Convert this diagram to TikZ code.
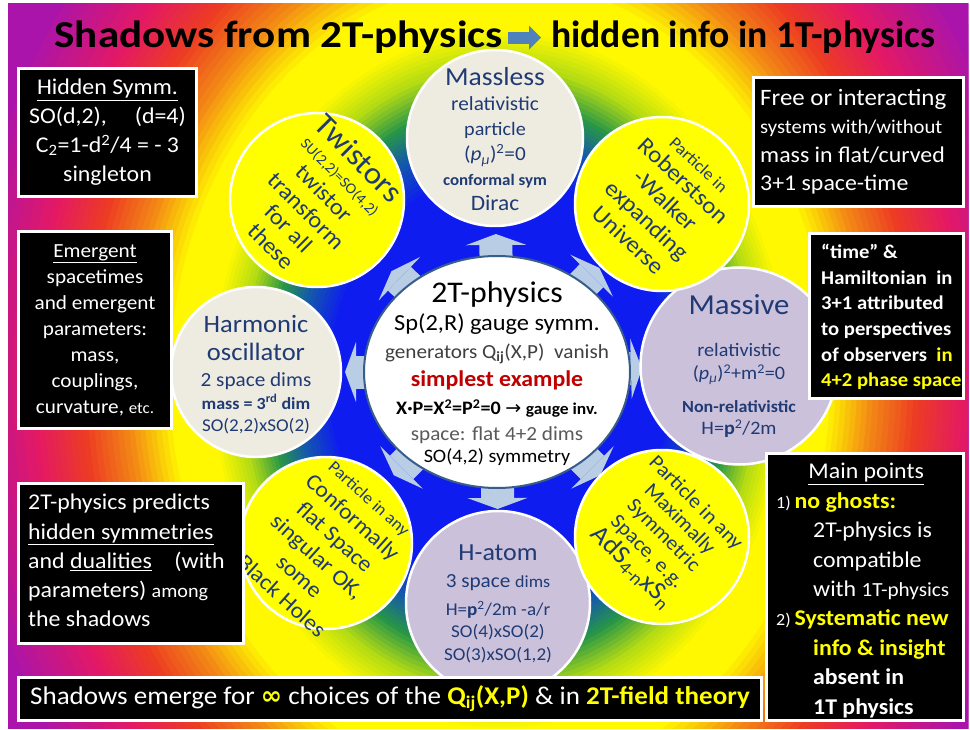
\documentclass[tikz,border=0pt]{standalone}
\usepackage{fontspec}
\setmainfont{Carlito}[FakeStretch=1.06]
\newfontfamily\symbfont{DejaVu Sans}
\usetikzlibrary{arrows.meta,positioning,shapes.geometric,calc}

\definecolor{inknavy}{HTML}{1F3A75}
\definecolor{bubtan}{HTML}{EEECE1}
\definecolor{lilac}{HTML}{CCC1DA}
\definecolor{hiblue}{HTML}{B9CDE5}
\definecolor{rimblue}{HTML}{385D8A}
\definecolor{accblue}{HTML}{4F81BD}
\definecolor{darkred}{HTML}{C00000}
\definecolor{inkgray}{HTML}{404040}
\definecolor{midgray}{HTML}{595959}
\definecolor{hiyellow}{HTML}{FFFF00}
% rainbow background
\definecolor{rbBlue}{HTML}{0E1CF0}
\definecolor{rbTeal}{HTML}{145AAA}
\definecolor{rbGreen}{HTML}{289646}
\definecolor{rbLime}{HTML}{B4DC14}
\definecolor{rbYellow}{HTML}{FFF800}
\definecolor{rbOrange}{HTML}{F38C14}
\definecolor{rbRed}{HTML}{EC3C23}
\definecolor{rbPink}{HTML}{E41964}
\definecolor{rbMagenta}{HTML}{AA14AA}

\pgfdeclarelayer{bg}
\pgfsetlayers{bg,main}

\newcommand\fsz[2]{\fontsize{#1}{#2}\selectfont}
\newcommand\pmu{(\textit{p}\textsubscript{\textit{μ}})\textsuperscript{2}}

\begin{document}
\begin{tikzpicture}[x=1pt, y=-1pt,
    bubble/.style={circle, draw=white, line width=2.5pt, minimum size=#1, inner sep=0pt},
    bubtext/.style={text=inknavy, align=center, inner sep=0pt},
    blackbox/.style={rectangle, fill=black, draw=white, line width=3pt, text=white, inner sep=0pt},
    boxtext/.style={text=white, align=left, inner sep=0pt},
    flow/.style={line width=33pt, draw=hiblue, -{Triangle[width=60pt, length=11pt, line width=0pt]}},
    titlearrow/.style={line width=12pt, draw=accblue, -{Triangle[width=24pt, length=12pt, line width=0pt]}},
    headline/.style={font=\fsz{38}{40}\bfseries, inner sep=0pt}
  ]

  \useasboundingbox (0,0) rectangle (970,730);

  \begin{pgfonlayer}{bg}
    \fill[white] (0,0) rectangle (970,730);
    \begin{scope}
      \clip (8,4) rectangle (968,728);
      % rings of the rainbow, outside in
      \foreach \ra/\rb/\ca/\cb in {1.85/1.65/rbMagenta/rbMagenta, 1.65/1.42/rbMagenta/rbPink,
          1.42/1.27/rbPink/rbRed, 1.27/1.13/rbRed/rbOrange, 1.13/1.0/rbOrange/rbYellow,
          1.0/0.88/rbYellow/rbYellow, 0.88/0.79/rbYellow/rbLime, 0.79/0.70/rbLime/rbGreen,
          0.70/0.62/rbGreen/rbTeal, 0.62/0.52/rbTeal/rbBlue}
        \foreach \k in {0,...,7} {
          \pgfmathsetmacro\rx{330*(\ra-(\ra-\rb)*\k/8)}
          \pgfmathsetmacro\ry{400*(\ra-(\ra-\rb)*\k/8)}
          \pgfmathsetmacro\pc{100*\k/8}
          \fill[\cb!\pc!\ca] (500,380) ellipse [x radius=\rx pt, y radius=\ry pt];
        }
      \fill[rbBlue] (500,380) ellipse [x radius=171.6pt, y radius=208pt];
    \end{scope}
  \end{pgfonlayer}

  % centre and the eight shadows
  \node[ellipse, fill=white, draw=rimblue, line width=2pt, minimum width=266pt, minimum height=232pt, inner sep=0pt] (core) at (497,372) {};

  \node[bubble=176pt, fill=bubtan] (massless) at (495,138) {};
  \node[bubble=170pt, fill=bubtan] (harmonic) at (256,372) {};
  \node[bubble=197pt, fill=lilac] (massive) at (739,366) {};
  \node[bubble=184pt, fill=lilac] (hatom) at (498,603) {};
  \node[bubble=174pt, fill=hiyellow] (twist) at (317,200) {};
  \node[bubble=174pt, fill=hiyellow] (rw) at (662,204) {};
  \node[bubble=172pt, fill=hiyellow] (conf) at (326,543) {};
  \node[bubble=174pt, fill=hiyellow] (maxsym) at (662,537) {};

  \begin{pgfonlayer}{bg}
    \foreach \b/\dist in {massless/138pt, hatom/137pt, harmonic/152pt, massive/145pt,
                          twist/146pt, rw/146pt, conf/146pt, maxsym/146pt}
      \draw[flow] (core.center) -- ($(core.center)!\dist!(\b.center)$);
  \end{pgfonlayer}

  \node[align=center, inner sep=0pt, font=\fsz{20}{28}] (coreT) at (497,374)
    {{\fsz{30}{30}2T-physics}\\
     {\fsz{23}{23}Sp(2,R) gauge symm.}\\
     {\color{inkgray}generators Q\textsubscript{\bfseries ij}(X,P)\ \ vanish}\\
     {\fsz{22.5}{22.5}\bfseries\color{darkred}simplest example}\\
     {\bfseries\fsz{19}{19}X·P=X\textsuperscript{2}=P\textsuperscript{2}=0 {\symbfont\mdseries →} {\fsz{16.5}{16.5}gauge inv.}}\\[-2pt]
     {\color{midgray}space: flat 4+2 dims}\\[-6pt]
     {\fsz{19}{19}SO(4,2) symmetry}};

  \node[bubtext, font=\fsz{20}{25}] (masslessT) at (495,139.5)
    {{\fsz{26}{26}Massless}\\ relativistic\\ {\fsz{19}{19}particle}\\ \pmu=0\\
     {\fsz{16}{16}\bfseries conformal sym}\\ {\fsz{22}{22}Dirac}};
  \node[bubtext, font=\fsz{18}{22.5}] (harmonicT) at (256,374.7)
    {{\fsz{25}{25}Harmonic}\\[5pt] {\fsz{25}{25}oscillator}\\[4pt] {\fsz{20}{20}2 space dims}\\
     {\fsz{17}{17}\bfseries mass = 3\textsuperscript{rd} dim}\\ SO(2,2)xSO(2)};
  \node[bubtext, font=\fsz{19}{22}] (massiveT) at (739,366.4)
    {{\fsz{29}{29}Massive}\\[20pt] relativistic\\[1pt] \pmu+m\textsuperscript{2}=0\\[11pt]
     {\fsz{17}{17}\bfseries Non-relativistic}\\ H=\textbf{p}\textsuperscript{2}/2m};
  \node[bubtext, font=\fsz{18}{22.5}] (hatomT) at (498,603.7)
    {{\fsz{24.5}{24.5}H-atom}\\[4.5pt] {\fsz{20}{20}3 space {\fsz{17}{17}dims}}\\[5.5pt]
     H=\textbf{p}\textsuperscript{2}/2m -a/r\\ SO(4)xSO(2)\\ SO(3)xSO(1,2)};

  \node[bubtext, rotate=-45, font=\fsz{23}{25}] (twistT) at (316,201)
    {{\fsz{31}{31}Twistors}\\[-3pt] {\fsz{15}{15}SU(2,2)=SO(4,2)}\\ twistor\\ transform\\ for all\\ these};
  \node[bubtext, rotate=-43, font=\fsz{23.5}{27}] (rwT) at (663,203)
    {{\fsz{17}{17}Particle in}\\[-3pt] Roberstson\\ -Walker\\ expanding\\ Universe};
  \node[bubtext, rotate=-42, font=\fsz{22.5}{26.5}] (confT) at (325,548)
    {{\fsz{17}{17}Particle in any}\\ Conformally\\ flat Space\\ singular OK,\\ some\\ Black Holes};
  \node[bubtext, rotate=-45, font=\fsz{20.5}{23}] (maxsymT) at (663,536)
    {Particle in any\\ Maximally\\ Symmetric\\ Space, e.g.\\ {\fsz{26}{26}AdS\textsubscript{4-n}xS\textsubscript{n}}};

  % black boxes
  \node[blackbox, minimum width=178pt, minimum height=128pt, align=center, font=\fsz{22.5}{29}] (hidden) at (107.5,132.5)
    {\underline{Hidden Symm.}\\ SO(d,2),\quad\ (d=4)\\ C\textsubscript{2}=1-d\textsuperscript{2}/4 = - 3\\ singleton};
  \node[blackbox, minimum width=153pt, minimum height=197pt, align=center, font=\fsz{20}{26}] (emergent) at (95,330)
    {\underline{Emergent}\\ spacetimes\\ and emergent\\ parameters:\\ mass,\\ couplings,\\ curvature, {\fsz{16}{16}etc.}};

  \node[blackbox, minimum width=225pt, minimum height=160pt] (predicts) at (131,563.5) {};
  \node[boxtext, font=\fsz{22.5}{29.2}, anchor=west] (predictsT) at (28,560.5)
    {2T-physics predicts\\ \underline{hidden symmetries}\\ and \underline{dualities}\quad (with\\
     parameters) {\fsz{19}{19}among}\\ the shadows};

  \node[blackbox, minimum width=743pt, minimum height=43pt, font=\fsz{25.5}{26}] (bottom) at (390,699)
    {Shadows emerge for {\color{hiyellow}\symbfont\bfseries ∞} choices of the
     {\color{hiyellow}\bfseries Q\textsubscript{ij}(X,P)} \& in {\color{hiyellow}\bfseries 2T-field theory}};

  \node[blackbox, minimum width=210pt, minimum height=129pt] (free) at (858.5,142) {};
  \node[boxtext, font=\fsz{22.5}{28.3}, anchor=west] (freeT) at (760,141.7)
    {{\fsz{23.5}{23.5}Free or interacting}\\ {\fsz{19.5}{19.5}systems with/without}\\
     mass in flat/curved\\ 3+1 space-time};

  \node[blackbox, minimum width=154pt, minimum height=165pt] (timebox) at (886.5,316) {};
  \node[boxtext, font=\fsz{19.5}{25.6}\bfseries, anchor=west] (timeT) at (821,317)
    {“time” \&\\ Hamiltonian\ \ in\\ 3+1 attributed\\ to perspectives\\
     of observers\ \ {\color{hiyellow}in}\\ {\color{hiyellow}4+2 phase space}};

  \node[blackbox, minimum width=197pt, minimum height=267pt] (mainpts) at (865,587) {};
  \node[boxtext, font=\fsz{22.5}{29.4}, anchor=west] (mainptsT) at (776,590.5)
    {\makebox[180pt]{\underline{Main points}}\\
     {\fsz{17}{17}1)}\,{\color{hiyellow}\bfseries no ghosts:}\\
     \hspace*{37pt}2T-physics is\\
     \hspace*{37pt}compatible\\
     \hspace*{37pt}with {\fsz{20}{20}1T-physics}\\
     {\fsz{17}{17}2)}\,{\color{hiyellow}\bfseries Systematic new}\\
     \hspace*{37pt}{\color{hiyellow}\bfseries info \& insight}\\
     \hspace*{37pt}{\bfseries absent in}\\
     \hspace*{37pt}{\bfseries 1T physics}};

  % title
  \node[headline, anchor=base east] (titleL) at (503,48) {\scalebox{1.07}[1]{Shadows from 2T-physics}};
  \node[headline, anchor=base west] (titleR) at (551,48) {\scalebox{0.935}[1]{hidden info in 1T-physics}};
  \draw[titlearrow] ([xshift=5pt]titleL.east) -- ([xshift=-10pt]titleR.west);
\end{tikzpicture}
\end{document}
